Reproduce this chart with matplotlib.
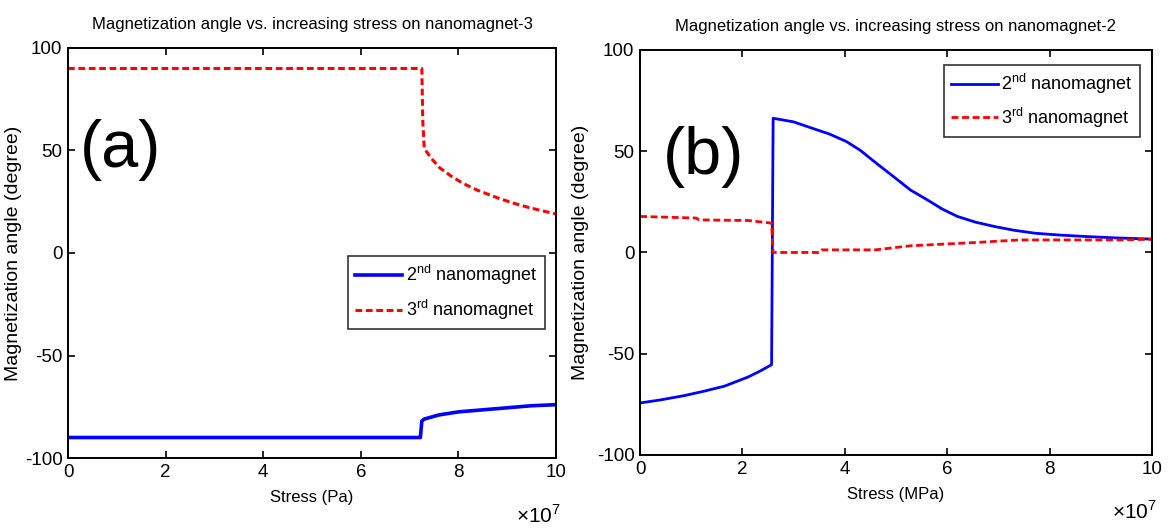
import matplotlib
matplotlib.use("Agg")
import matplotlib.pyplot as plt

plt.rcParams["font.family"] = ["Liberation Sans", "DejaVu Sans"]
plt.rcParams["mathtext.fontset"] = "custom"
plt.rcParams["mathtext.rm"] = "Liberation Sans"
plt.rcParams["axes.unicode_minus"] = False

# panel (a): stress on nanomagnet-3 (x in units of 1e7 Pa)
a_x2 = [0, 7.22, 7.25, 7.3, 7.6, 8.0, 8.5, 9.0, 9.5, 10.0]
a_y2 = [-90, -90, -82, -81, -79, -77.5, -76.5, -75.5, -74.5, -74]
a_x3 = [0, 7.25, 7.27, 7.3, 7.45, 7.62, 7.85, 8.09, 8.4, 8.79, 9.1, 9.47, 10.0]
a_y3 = [90, 90, 64, 51, 46, 41.5, 37.5, 34, 30.5, 27, 24.5, 22, 19]

# panel (b): stress on nanomagnet-2
b_x2 = [0, 0.4, 0.86, 1.25, 1.65, 2.11, 2.35, 2.57, 2.6, 3.0, 3.37, 3.7, 4.03, 4.3,
        4.62, 4.95, 5.28, 5.61, 5.9, 6.2, 6.55, 6.93, 7.3, 7.72, 8.2, 8.7, 9.3, 10.0]
b_y2 = [-74.3, -72.8, -70.7, -68.5, -66, -61.5, -58.5, -55.4, 66.3, 64.5, 61.3, 58.5,
        54.8, 50.5, 44, 37.5, 30.9, 26, 21.5, 17.8, 15, 12.8, 11, 9.5, 8.6, 7.9, 7.2, 6.6]
b_x3 = [0, 1.1, 1.15, 2.11, 2.57, 2.6, 3.5, 3.55, 4.6, 5.28, 6.53, 7.4, 9.4, 10.0]
b_y3 = [17.8, 17.0, 16.1, 15.8, 14.5, 0, 0, 1.3, 1.3, 3.3, 4.9, 6.2, 6.2, 6.6]

titles = ["Magnetization angle vs. increasing stress on nanomagnet-3",
          "Magnetization angle vs. increasing stress on nanomagnet-2"]
xlabels = ["Stress (Pa)", "Stress (MPa)"]
panel_tags = ["(a)", "(b)"]
leg_labels = [r"2$^{\mathrm{nd}}$ nanomagnet", r"3$^{\mathrm{rd}}$ nanomagnet"]

fig = plt.figure(figsize=(11.75, 5.29), dpi=100)
ax1 = fig.add_axes([0.0579, 0.1342, 0.4153, 0.7751])
ax2 = fig.add_axes([0.5447, 0.1399, 0.4357, 0.7656])

ax1.plot(a_x2, a_y2, color="#0000ff", lw=2.6, label=leg_labels[0])
ax1.plot(a_x3, a_y3, color="#ff0000", lw=2.2, ls=(0, (2.2, 1.2)), label=leg_labels[1])
ax2.plot(b_x2, b_y2, color="#0000ff", lw=2.0, label=leg_labels[0])
ax2.plot(b_x3, b_y3, color="#ff0000", lw=2.0, ls=(0, (2.5, 1.3)), label=leg_labels[1])

tag_x = [0.025, 0.045]
tag_y = [0.75, 0.735]
for i, ax in enumerate([ax1, ax2]):
    ax.set_xlim(0, 10)
    ax.set_ylim(-100, 100)
    ax.set_xticks([0, 2, 4, 6, 8, 10])
    ax.set_yticks([-100, -50, 0, 50, 100])
    ax.tick_params(direction="in", top=True, right=True, length=5, width=1.2,
                   labelsize=13.5, pad=4)
    for s in ax.spines.values():
        s.set_linewidth(1.4)
    ax.set_title(titles[i], fontsize=12, pad=14)
    ax.set_xlabel(xlabels[i], fontsize=12, labelpad=7)
    ax.set_ylabel("Magnetization angle (degree)", fontsize=14)
    ax.text(tag_x[i], tag_y[i], panel_tags[i], transform=ax.transAxes, fontsize=48,
            va="center", ha="left")
    ax.text(1.01, -0.14, r"$\times$10$^{7}$", transform=ax.transAxes,
            fontsize=15, ha="right", va="center")

ax1.yaxis.set_label_coords(-0.094, 0.5)
ax2.yaxis.set_label_coords(-0.1, 0.5)

leg1 = ax1.legend(loc="upper right", bbox_to_anchor=(0.995, 0.515), fontsize=13,
                  frameon=True, fancybox=False, edgecolor="black",
                  handlelength=2.6, handletextpad=0.2, borderpad=0.4, labelspacing=0.6)
leg1.get_frame().set_linewidth(1.2)
leg2 = ax2.legend(loc="upper right", bbox_to_anchor=(0.995, 0.985), fontsize=13,
                  frameon=True, fancybox=False, edgecolor="black",
                  handlelength=2.6, handletextpad=0.2, borderpad=0.4, labelspacing=0.5)
leg2.get_frame().set_linewidth(1.2)

fig.savefig("out.png", dpi=100)
